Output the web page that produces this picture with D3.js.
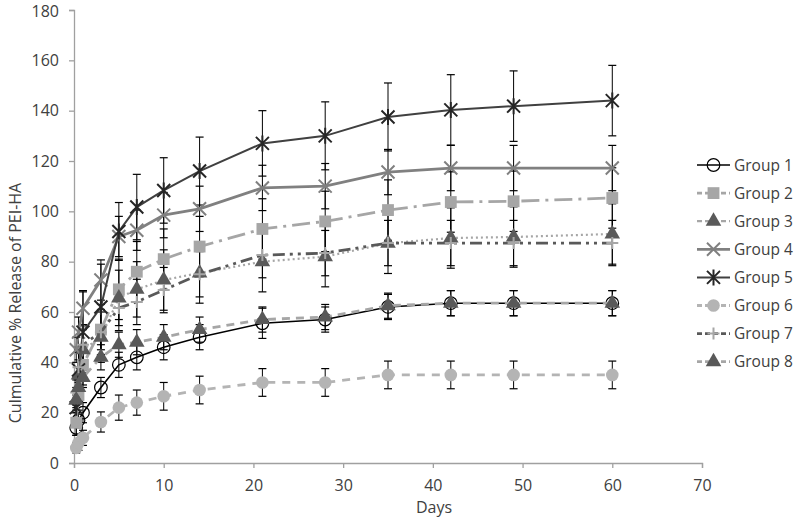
<!DOCTYPE html>
<head>
  <meta charset="utf-8">
  <title>PEI-HA release</title>
  <script src="https://cdn.jsdelivr.net/npm/d3@7"></script>
  <style>
    body { margin: 0; background: #fff; }
    text { font-family: "Open Sans", sans-serif; fill: #404040; }
  </style>
</head>
<body>
  <svg width="800" height="526"></svg>

  <script>
  // time points (days)
  var days = [0.25, 0.5, 1, 3, 5, 7, 10, 14, 21, 28, 35, 42, 49, 60];
  var xTicks = [0, 10, 20, 30, 40, 50, 60, 70];
  var yTicks = [0, 20, 40, 60, 80, 100, 120, 140, 160, 180];
  var groupNames = ["Group 1", "Group 2", "Group 3", "Group 4", "Group 5", "Group 6", "Group 7", "Group 8"];

  // mean cumulative % release per group
  var g1 = [14, 17, 20, 30, 39, 42, 46, 50, 55.5, 57, 62, 63.5, 63.5, 63.5];
  var g2 = [16, 27, 39, 53, 69, 76, 81, 86, 93, 96, 100.5, 103.7, 104, 105.3];
  var g3 = [25, 35, 45, 50, 65.6, 69, 72.7, 75.5, 80, 82, 87.3, 89.4, 89.8, 91];
  var g4 = [45, 52, 61.5, 72.7, 90, 92.5, 98.5, 101, 109.3, 110, 115.6, 117.2, 117.2, 117.2];
  var g5 = [22, 37, 52, 62, 92, 101.7, 108.3, 116, 127, 130, 137.5, 140.3, 141.8, 144];
  var g6 = [6, 8, 10, 16.3, 22, 24, 26.5, 29, 32, 32, 35, 35, 35, 35];
  var g7 = [28, 38, 47, 52, 61.6, 64, 68.7, 75, 82.6, 83.4, 87.4, 87.4, 87.4, 87.4];
  var g8 = [25, 30, 34, 42, 47, 48, 50, 53, 57, 58, 62.5, 63.5, 63.5, 63.5];

  // error bar half-widths
  var e1 = [3, 3, 4, 4, 5, 5, 5, 5, 6, 5, 5, 5, 5, 5];
  var e2 = [5, 6, 8, 10, 12, 12, 12, 12, 12, 12, 12, 12, 12, 12];
  var e3 = [5, 6, 8, 10, 11, 11, 12, 12, 12, 12, 12, 12, 12, 12];
  var e4 = [5, 6, 7, 8, 8, 8, 9, 9, 9, 9, 9, 9, 9, 9];
  var e5 = [5, 8, 16, 17, 11.5, 13, 13, 13.5, 13, 13.5, 13.5, 14, 14, 14];
  var e6 = [2, 3, 3, 4, 5, 5, 5.5, 5.5, 5.5, 5.5, 5.5, 5.5, 5.5, 5.5];
  var e7 = [5, 6, 8, 9, 9, 9, 9, 9, 9, 9, 9, 9, 9, 9];
  var e8 = [3, 4, 4, 5, 5, 5, 5, 5, 5, 5, 5, 5, 5, 5];

  var svg = d3.select("svg");

  var x = d3.scaleLinear().domain([0, 70]).range([74, 702]);
  var y = d3.scaleLinear().domain([0, 180]).range([463, 10]);

  // series styling
  var styles = [
    {stroke: "#000000", width: 1.6, dash: null,               marker: "ocircle",  mfill: "none",    mstroke: "#000000"},
    {stroke: "#a6a6a6", width: 2.8, dash: "18,6,3,6",         marker: "square",   mfill: "#a6a6a6", mstroke: "none"},
    {stroke: "#a6a6a6", width: 2.2, dash: "2,3",              marker: "triangle", mfill: "#5a5a5a", mstroke: "none"},
    {stroke: "#808080", width: 2.8, dash: null,               marker: "x",        mfill: "none",    mstroke: "#808080"},
    {stroke: "#404040", width: 2.0, dash: null,               marker: "star",     mfill: "none",    mstroke: "#262626"},
    {stroke: "#b4b4b4", width: 2.8, dash: "8,7",              marker: "circle",   mfill: "#b4b4b4", mstroke: "none"},
    {stroke: "#595959", width: 2.8, dash: "12,5,3,5,3,5",     marker: "plus",     mfill: "none",    mstroke: "#a6a6a6"},
    {stroke: "#a6a6a6", width: 2.8, dash: "8,6",              marker: "triangle", mfill: "#595959", mstroke: "none"}
  ];

  var values = [g1, g2, g3, g4, g5, g6, g7, g8];
  var errors = [e1, e2, e3, e4, e5, e6, e7, e8];

  var series = groupNames.map(function(name, i) {
    return {
      name: name,
      style: styles[i],
      points: days.map(function(d, j) { return {day: d, v: values[i][j], e: errors[i][j]}; })
    };
  });

  function markerPath(type) {
    if (type == "circle" || type == "ocircle") return d3.symbol(d3.symbolCircle, 125)();
    if (type == "square") return d3.symbol(d3.symbolSquare, 140)();
    if (type == "triangle") return d3.symbol(d3.symbolTriangle, 105)();
    if (type == "x") return "M-6.5,-6.5L6.5,6.5M-6.5,6.5L6.5,-6.5";
    if (type == "plus") return "M-6,0L6,0M0,-6L0,6";
    if (type == "star") return "M-6.5,-6.5L6.5,6.5M-6.5,6.5L6.5,-6.5M0,-8L0,8";
  }

  // axes
  var axisColor = "#a0a0a0";
  var yAxis = svg.append("g")
      .attr("transform", "translate(74,0)")
      .call(d3.axisLeft(y).tickValues(yTicks).tickSize(5).tickPadding(10));
  var xAxis = svg.append("g")
      .attr("transform", "translate(0,463)")
      .call(d3.axisBottom(x).tickValues(xTicks).tickSize(5).tickPadding(12));
  [xAxis, yAxis].forEach(function(a) {
    a.select(".domain").attr("stroke", axisColor).attr("stroke-width", 1.3);
    a.selectAll(".tick line").attr("stroke", axisColor).attr("stroke-width", 1.3);
    a.selectAll(".tick text").attr("fill", "#404040").attr("font-size", 16)
      .attr("font-family", "'Open Sans', sans-serif");
  });
  // keep the top label inside the picture
  yAxis.selectAll(".tick text").filter(function(d) { return d == 180; }).attr("dy", "0.42em");

  svg.append("text")
      .attr("x", 434)
      .attr("y", 513)
      .attr("text-anchor", "middle")
      .attr("font-size", 16)
      .text("Days");

  svg.append("text")
      .attr("transform", "translate(21,303) rotate(-90)")
      .attr("text-anchor", "middle")
      .attr("font-size", 16)
      .text("Culmulative % Release of PEI-HA");

  // error bars
  var eb = svg.append("g").attr("class", "errorbars");
  series.forEach(function(s) {
    var gg = eb.append("g");
    gg.selectAll("line.v").data(s.points).enter().append("line")
      .attr("x1", function(d) { return x(d.day); })
      .attr("x2", function(d) { return x(d.day); })
      .attr("y1", function(d) { return y(d.v - d.e); })
      .attr("y2", function(d) { return y(d.v + d.e); })
      .attr("stroke", "#000").attr("stroke-width", 1);
    [1, -1].forEach(function(sign) {
      gg.selectAll("line.cap" + sign).data(s.points).enter().append("line")
        .attr("x1", function(d) { return x(d.day) - 4; })
        .attr("x2", function(d) { return x(d.day) + 4; })
        .attr("y1", function(d) { return y(d.v + sign * d.e); })
        .attr("y2", function(d) { return y(d.v + sign * d.e); })
        .attr("stroke", "#000").attr("stroke-width", 1.2);
    });
  });

  // lines and markers
  var line = d3.line()
      .x(function(d) { return x(d.day); })
      .y(function(d) { return y(d.v); });

  series.forEach(function(s) {
    var gg = svg.append("g");
    gg.append("path")
      .attr("d", line(s.points))
      .attr("fill", "none")
      .attr("stroke", s.style.stroke)
      .attr("stroke-width", s.style.width)
      .attr("stroke-dasharray", s.style.dash);
    gg.selectAll("path.m").data(s.points).enter().append("path")
      .attr("transform", function(d) { return "translate(" + x(d.day) + "," + y(d.v) + ")"; })
      .attr("d", markerPath(s.style.marker))
      .attr("fill", s.style.mfill)
      .attr("stroke", s.style.mstroke)
      .attr("stroke-width", s.style.marker == "ocircle" ? 1.2 : 2);
  });

  // legend
  var legend = svg.append("g").attr("class", "legend");
  var row = legend.selectAll("g").data(series).enter().append("g")
      .attr("transform", function(d, i) { return "translate(697," + (165 + i * 28.1) + ")"; });
  row.append("line")
      .attr("x1", 0).attr("x2", 33).attr("y1", 0).attr("y2", 0)
      .attr("stroke", function(d) { return d.style.stroke; })
      .attr("stroke-width", function(d) { return d.style.width; })
      .attr("stroke-dasharray", function(d) { return d.style.dash ? "5,3" : null; });
  row.append("path")
      .attr("transform", "translate(16.5,0)")
      .attr("d", function(d) { return markerPath(d.style.marker); })
      .attr("fill", function(d) { return d.style.mfill; })
      .attr("stroke", function(d) { return d.style.mstroke; })
      .attr("stroke-width", function(d) { return d.style.marker == "ocircle" ? 1.2 : 2; });
  row.append("text")
      .attr("x", 37)
      .attr("y", 5.5)
      .attr("font-size", 15.5)
      .text(function(d) { return d.name; });
  </script>
</body>
